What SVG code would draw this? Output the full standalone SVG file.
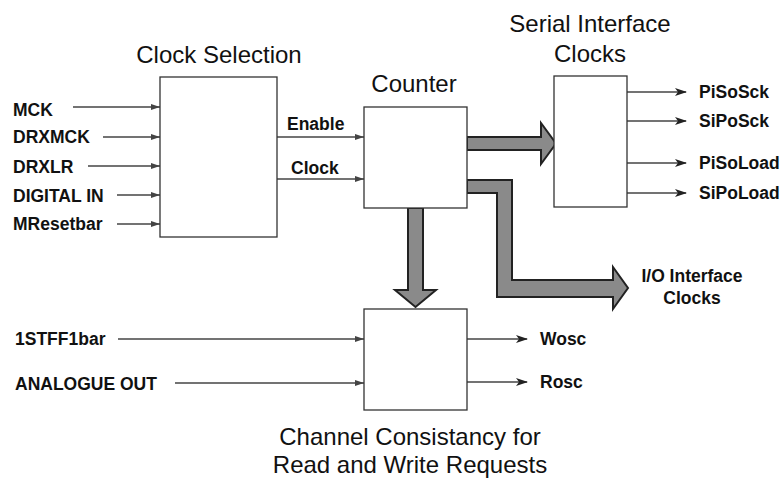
<svg xmlns="http://www.w3.org/2000/svg" width="781" height="479" viewBox="0 0 781 479">
<defs>
<style>
.box{fill:#fff;stroke:#333;stroke-width:1.3}
.t{font-family:"Liberation Sans",Arial,sans-serif;font-size:24px;fill:#111}
.l{font-family:"Liberation Sans",Arial,sans-serif;font-size:17.5px;font-weight:bold;fill:#111}
.w{stroke:#444;stroke-width:1.3;fill:none}
.fat{fill:#8a8a8a;stroke:#222;stroke-width:2}
</style>
<marker id="ah" markerWidth="12" markerHeight="8" refX="11" refY="4" orient="auto" markerUnits="userSpaceOnUse">
<path d="M0,0 L12,4 L0,8 L3,4 Z" fill="#222"/>
</marker>
<marker id="ai" markerWidth="9" markerHeight="6" refX="9" refY="3" orient="auto" markerUnits="userSpaceOnUse">
<path d="M0,0 L9,3 L0,6 Z" fill="#444"/>
</marker>
</defs>
<rect width="781" height="479" fill="#fff"/>
<g id="connectors">
<line class="w" x1="73" y1="107" x2="160" y2="107" marker-end="url(#ai)"/>
<line class="w" x1="103" y1="137" x2="160" y2="137" marker-end="url(#ai)"/>
<line class="w" x1="88" y1="166" x2="160" y2="166" marker-end="url(#ai)"/>
<line class="w" x1="117" y1="195" x2="160" y2="195" marker-end="url(#ai)"/>
<line class="w" x1="117" y1="224" x2="160" y2="224" marker-end="url(#ai)"/>
<line class="w" x1="277" y1="137" x2="364" y2="137" marker-end="url(#ai)"/>
<line class="w" x1="277" y1="179" x2="364" y2="179" marker-end="url(#ai)"/>
<line class="w" x1="118" y1="339" x2="364" y2="339" marker-end="url(#ai)"/>
<line class="w" x1="175" y1="383" x2="364" y2="383" marker-end="url(#ai)"/>
<line class="w" x1="467" y1="339" x2="527" y2="339" marker-end="url(#ah)"/>
<line class="w" x1="467" y1="382" x2="527" y2="382" marker-end="url(#ah)"/>
<line class="w" x1="627" y1="92" x2="686" y2="92" marker-end="url(#ah)"/>
<line class="w" x1="627" y1="121" x2="686" y2="121" marker-end="url(#ah)"/>
<line class="w" x1="627" y1="163" x2="686" y2="163" marker-end="url(#ah)"/>
<line class="w" x1="627" y1="193" x2="686" y2="193" marker-end="url(#ah)"/>
<path class="fat" d="M467,137 L541,137 L541,123 L556,143.5 L541,164 L541,150 L467,150 Z"/>
<path class="fat" d="M467,180 L512,180 L512,280 L613,280 L613,267 L628,288 L613,309 L613,297 L497,297 L497,193 L467,193 Z"/>
<path class="fat" d="M408,208 L423,208 L423,290 L436,290 L415.5,307 L395,290 L408,290 Z"/>
</g>
<g id="clock-selection">
<rect class="box" x="160" y="77" width="117" height="160"/>
<text class="t" x="219" y="63" text-anchor="middle">Clock Selection</text>
<text class="l" x="13" y="116">MCK</text>
<text class="l" x="13" y="143">DRXMCK</text>
<text class="l" x="13" y="173">DRXLR</text>
<text class="l" x="13" y="202">DIGITAL IN</text>
<text class="l" x="13" y="230">MResetbar</text>
<text class="l" x="287" y="130">Enable</text>
<text class="l" x="291" y="174">Clock</text>
</g>
<g id="counter">
<rect class="box" x="364" y="107" width="103" height="101"/>
<text class="t" x="414" y="92" text-anchor="middle">Counter</text>
</g>
<g id="serial-interface">
<rect class="box" x="554" y="76" width="73" height="131"/>
<text class="t" x="590" y="32" text-anchor="middle">Serial Interface</text>
<text class="t" x="590" y="62" text-anchor="middle">Clocks</text>
<text class="l" x="699" y="98">PiSoSck</text>
<text class="l" x="699" y="127">SiPoSck</text>
<text class="l" x="699" y="169">PiSoLoad</text>
<text class="l" x="699" y="199">SiPoLoad</text>
</g>
<g id="io-interface">
<text class="l" x="692" y="282" text-anchor="middle">I/O Interface</text>
<text class="l" x="692" y="304" text-anchor="middle">Clocks</text>
</g>
<g id="channel-consistancy">
<rect class="box" x="364" y="309" width="103" height="101"/>
<text class="l" x="15" y="345">1STFF1bar</text>
<text class="l" x="15" y="390">ANALOGUE OUT</text>
<text class="l" x="540" y="345">Wosc</text>
<text class="l" x="540" y="388">Rosc</text>
<text class="t" x="410" y="445" text-anchor="middle">Channel Consistancy for</text>
<text class="t" x="410" y="473" text-anchor="middle">Read and Write Requests</text>
</g>
</svg>
